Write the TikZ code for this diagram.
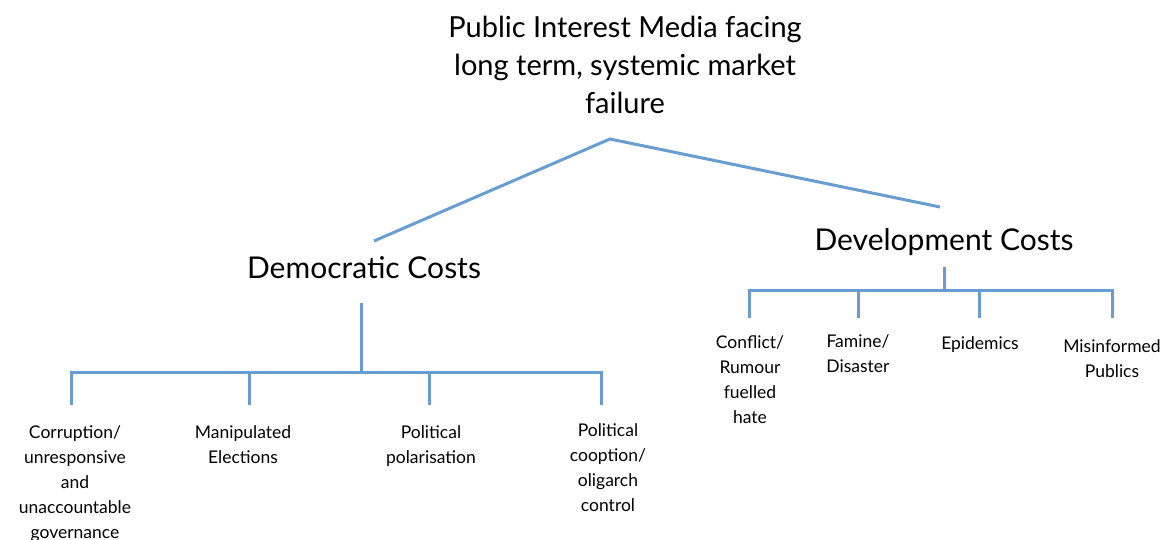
\documentclass[tikz,border=0pt]{standalone}
\usepackage{fontspec}
\setmainfont{Lato}
\definecolor{branchblue}{RGB}{104,157,210}
\begin{document}
\begin{tikzpicture}[x=1pt,y=-1pt,
    branch/.style={draw=branchblue, line width=3pt},
    heading/.style={font=\fontsize{29}{38}\selectfont, align=center, inner sep=0pt},
    cost/.style={font=\fontsize{30}{36}\selectfont, inner sep=0pt},
    leaf/.style={font=\fontsize{17.5}{25}\selectfont, align=center, inner sep=0pt, anchor=north}]
  \useasboundingbox (0,0) rectangle (1168,540);

  % Titulo
  \node[heading, anchor=north] (root) at (625,16) {Public Interest Media facing\\long term, systemic market\\failure};
  \coordinate (peak) at (610,139);
  \coordinate (demotop) at (374,241);
  \coordinate (devtop) at (940,207);
  \draw[branch] (demotop) -- (peak) -- (devtop);

  % Ramas principales
  \node[cost] (demo) at (364,268) {Democratic Costs};
  \node[cost] (dev) at (944,242) {Development Costs};

  % Costos democraticos
  \coordinate (demojoin) at (361,372);
  \draw[branch] (361,303) -- (demojoin);
  \foreach \n/\x/\tx/\ty/\txt in {corr/71/75/425/{Corruption/\\unresponsive\\and\\unaccountable\\governance},
                                  elec/249/243/425/{Manipulated\\Elections},
                                  pola/429/431/425/{Political\\polarisation},
                                  coop/601/608/423/{Political\\cooption/\\oligarch\\control}} {
    \coordinate (\n top) at (\x,405);
    \draw[branch] (\n top) |- (demojoin);
    \node[leaf] (\n) at (\tx,\ty) {\txt};
  }

  % Costos de desarrollo
  \coordinate (devjoin) at (944,291);
  \draw[branch] (944,267) -- (devjoin);
  \foreach \n/\x/\tx/\ty/\txt in {conf/749/750/335/{Conflict/\\Rumour\\fuelled\\hate},
                                  fami/858/858/334/{Famine/\\Disaster},
                                  epid/979/980/336/{Epidemics},
                                  misi/1112/1112/339/{Misinformed\\Publics}} {
    \coordinate (\n top) at (\x,318);
    \draw[branch] (\n top) |- (devjoin);
    \node[leaf] (\n) at (\tx,\ty) {\txt};
  }
\end{tikzpicture}
\end{document}
